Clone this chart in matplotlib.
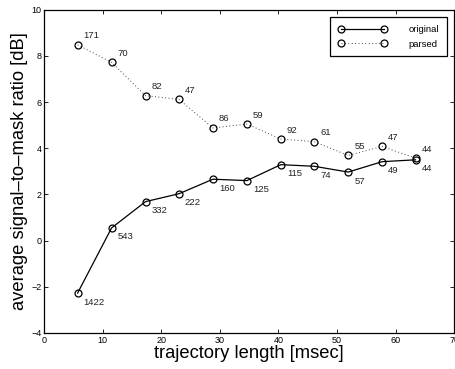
import matplotlib
matplotlib.use("Agg")
import matplotlib.pyplot as plt

plt.rcParams['font.family'] = ['Liberation Sans', 'DejaVu Sans']

# trajectory length [msec]
traj_len = [5.7, 11.5, 17.3, 23.0, 28.8, 34.6, 40.4, 46.1, 51.9, 57.7, 63.4]

# average signal-to-mask ratio [dB]
smr_original = [-2.27, 0.55, 1.69, 2.03, 2.66, 2.60, 3.29, 3.22, 2.97, 3.42, 3.50]
smr_parsed = [8.48, 7.72, 6.28, 6.12, 4.88, 5.05, 4.40, 4.29, 3.69, 4.08, 3.57]

# number of trajectories per length
count_original = [1422, 543, 332, 222, 160, 125, 115, 74, 57, 49, 44]
count_parsed = [171, 70, 82, 47, 86, 59, 92, 61, 55, 47, 44]

fig = plt.figure(figsize=(4.56, 3.69), dpi=100)
ax = fig.add_axes([0.097, 0.0976, 0.899, 0.876])

ax.plot(traj_len, smr_original, '-', color='black', lw=0.9,
        marker='o', mfc='none', mec='black', ms=5, mew=0.9, label='original')
ax.plot(traj_len, smr_parsed, linestyle=(0, (1, 2.5)), color='#444444', lw=0.7,
        marker='o', mfc='none', mec='black', ms=5, mew=0.9, label='parsed')

for x, y, n in zip(traj_len, smr_original, count_original):
    ax.annotate(str(n), (x, y), xytext=(6, -9), textcoords='offset pixels',
                ha='left', va='center', fontsize=6.8, color='#222222')
for x, y, n in zip(traj_len, smr_parsed, count_parsed):
    ax.annotate(str(n), (x, y), xytext=(6, 9), textcoords='offset pixels',
                ha='left', va='center', fontsize=6.8, color='#222222')

ax.set_xlim(0, 70)
ax.set_ylim(-4, 10)
ax.set_xticks(range(0, 71, 10))
ax.set_yticks(range(-4, 11, 2))
ax.tick_params(direction='in', top=True, right=True, labelsize=6.5,
               length=3, width=0.6, pad=2)
for s in ax.spines.values():
    s.set_linewidth(0.9)

ax.set_xlabel('trajectory length [msec]', fontsize=13.2, labelpad=0)
ax.set_ylabel('average signal\u2013to\u2013mask ratio [dB]', fontsize=13.2, labelpad=2)

leg = ax.legend(loc='upper right', numpoints=2, fontsize=6.8, fancybox=False,
                edgecolor='black', framealpha=1, handlelength=5.2,
                borderpad=0.8, labelspacing=0.6, handletextpad=2.3,
                borderaxespad=0.8)
leg.get_frame().set_linewidth(0.9)

fig.savefig('out.png', dpi=100)
